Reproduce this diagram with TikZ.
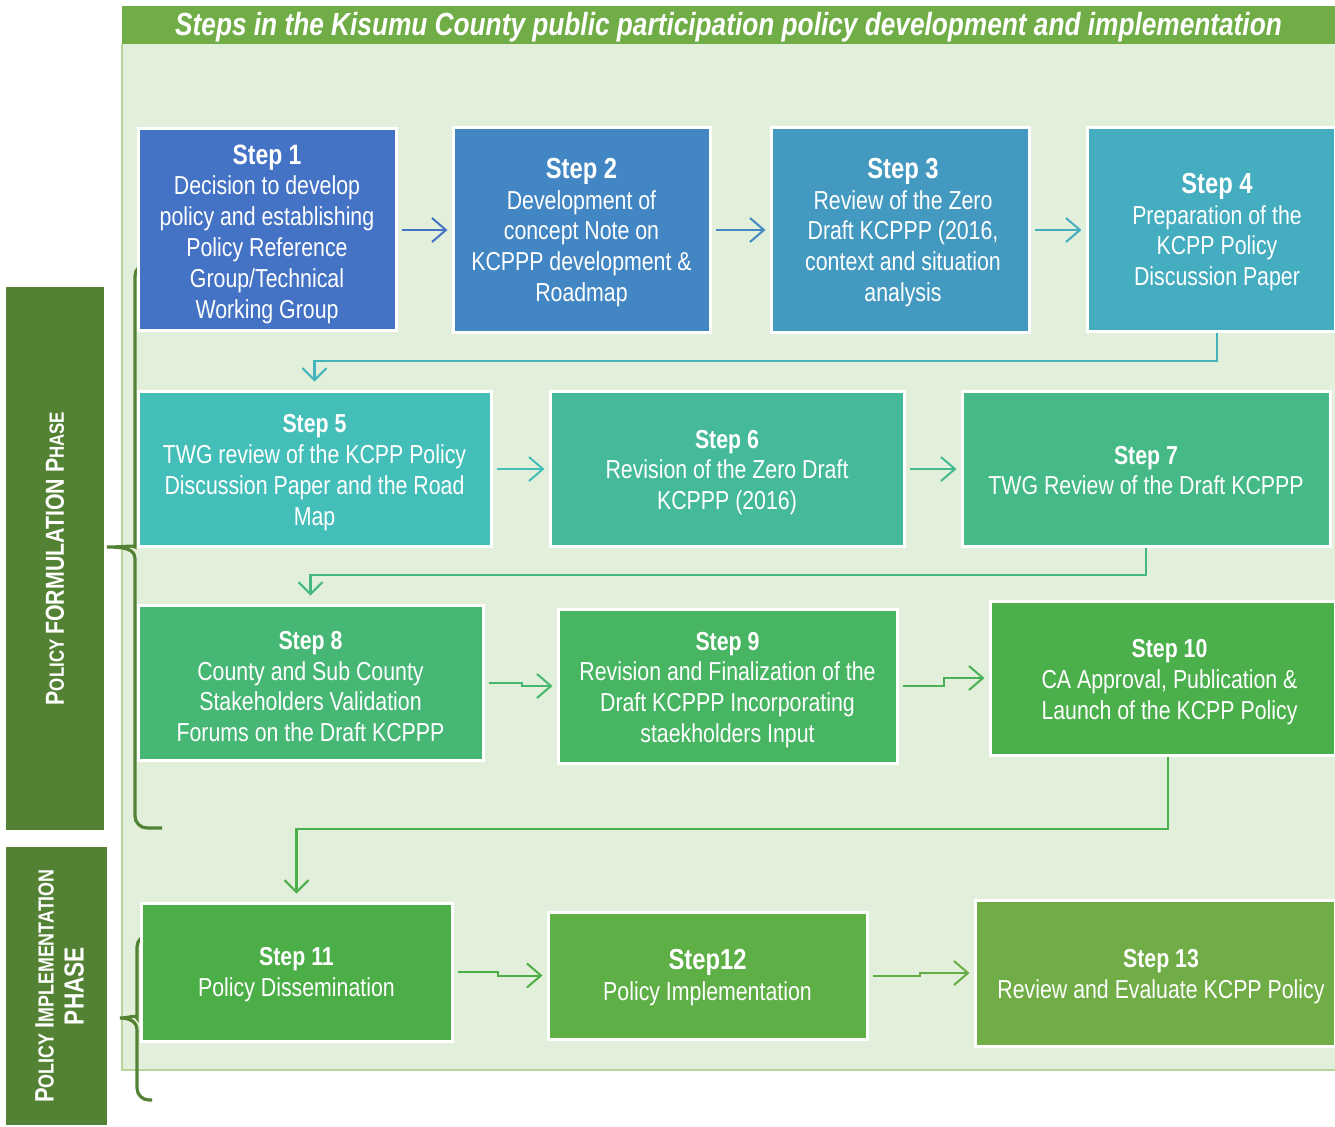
\documentclass[tikz,border=0pt]{standalone}
\usepackage{fontspec}
\setmainfont{Liberation Sans}[FakeStretch=0.82]
\usetikzlibrary{arrows.meta}
\definecolor{panel}{HTML}{E2EFDA}
\definecolor{panelborder}{HTML}{B4D69C}
\definecolor{titlegreen}{HTML}{70AD47}
\definecolor{phasegreen}{HTML}{548235}
\definecolor{cA}{HTML}{4472C4}
\definecolor{cB}{HTML}{4286C4}
\definecolor{cC}{HTML}{4399C0}
\definecolor{cD}{HTML}{44ADBF}
\definecolor{cE}{HTML}{44BEB8}
\definecolor{cF}{HTML}{45BA9A}
\definecolor{cG}{HTML}{45BA87}
\definecolor{cH}{HTML}{46B775}
\definecolor{cI}{HTML}{48B563}
\definecolor{cJ}{HTML}{4BB04C}
\definecolor{cK}{HTML}{4BAE47}
\definecolor{cL}{HTML}{5EAF45}
\definecolor{cM}{HTML}{70AD47}
\newcommand{\bigtitle}[1]{{\fontsize{14.5}{15.4}\selectfont\bfseries #1}}
\newcommand{\midtitle}[1]{{\fontsize{14}{15.4}\selectfont\bfseries #1}}
\begin{document}
\begin{tikzpicture}[x=0.5pt,y=-0.5pt,
  stepbox/.style={draw=white, line width=1.5pt, inner sep=0pt},
  steptext/.style={text=white, align=center, inner sep=0pt,
    font=\fontsize{13}{15.4}\selectfont},
  arr/.style={line width=1pt, shorten >=2pt, shorten <=2pt,
    -{Straight Barb[length=7pt,width=12pt,line width=1pt]}},
  conn/.style={line width=1.3pt, shorten >=4pt,
    -{Straight Barb[length=6pt,width=12pt,line width=1pt]}},
  phasebox/.style={fill=phasegreen, text=white, inner sep=0pt, align=center},
  brace/.style={draw=phasegreen, line width=1.6pt, rounded corners=6pt}
]
\useasboundingbox (0,0) rectangle (1335,1126);
% panel
\fill[panel] (122,44) rectangle (1335,1070);
\draw[panelborder, line width=1pt] (122,44) -- (122,1070) -- (1335,1070);
% title
\node (title) [fill=titlegreen, minimum width=606.5pt, minimum height=19pt, inner sep=0pt] at (728.5,25) {};
\node (titletext) [text=white, inner sep=0pt, font=\fontsize{16}{18}\selectfont\bfseries\itshape] at (728.5,27)
  {Steps in the Kisumu County public participation policy development and implementation};
% phase bars
\node (ph1) [phasebox, minimum width=49pt, minimum height=271.5pt] at (55,558.5) {};
\node (ph1t) [text=white, rotate=90, font=\bfseries] at (ph1.center)
  {\fontsize{13}{15}\selectfont P\fontsize{10.3}{12}\selectfont OLICY \fontsize{13}{15}\selectfont FORMULATION P\fontsize{10.3}{12}\selectfont HASE};
\node (ph2) [phasebox, minimum width=50.5pt, minimum height=139pt] at (56.5,986) {};
\node (ph2t) [text=white, rotate=90, align=center, font=\bfseries] at ([xshift=1.5pt]ph2.center)
  {\fontsize{13.3}{15}\selectfont P\fontsize{10.9}{12}\selectfont OLICY \fontsize{13.3}{15}\selectfont I\fontsize{10.9}{12}\selectfont MPLEMENTATION\\[3pt]
   \fontsize{13.8}{15}\selectfont PHASE};
% braces
\draw[brace] (162,264) -- (135,264) -- (135,535) [rounded corners=0pt] .. controls (135,545) and (125,547) .. (107,547)
  .. controls (125,547) and (135,549) .. (135,559) [rounded corners=6pt] -- (135,828) -- (162,828);
\draw[brace] (152,935) -- (137,935) -- (137,1006) [rounded corners=0pt] .. controls (137,1014) and (130,1018) .. (120,1018)
  .. controls (130,1018) and (137,1022) .. (137,1030) [rounded corners=6pt] -- (137,1100) -- (152,1100);
% steps
\node (s1) [stepbox, fill=cA, minimum width=129pt, minimum height=101pt] at (267,229) {};
\node (t1) [steptext] at ([yshift=-2.5pt]s1.center)
  {\midtitle{Step 1}\\Decision to develop\\policy and establishing\\Policy Reference\\Group/Technical\\Working Group};
\node (s2) [stepbox, fill=cB, minimum width=128.5pt, minimum height=102.5pt] at (581.5,229.5) {};
\node (t2) [steptext] at ([yshift=-1.5pt]s2.center)
  {\bigtitle{Step 2}\\Development of\\concept Note on\\KCPPP development \&\\Roadmap};
\node (s3) [stepbox, fill=cC, minimum width=129pt, minimum height=102.5pt] at (900,229.5) {};
\node (t3) [steptext] at ([yshift=-1.5pt,xshift=1.5pt]s3.center)
  {\bigtitle{Step 3}\\Review of the Zero\\Draft KCPPP (2016,\\context and situation\\analysis};
\node (s4) [stepbox, fill=cD, minimum width=124pt, minimum height=102pt] at (1211,229) {};
\node (t4) [steptext] at ([yshift=-1.5pt,xshift=3pt]s4.center)
  {\bigtitle{Step 4}\\Preparation of the\\KCPP Policy\\Discussion Paper};
\node (s5) [stepbox, fill=cE, minimum width=176.5pt, minimum height=77.5pt] at (314.5,468.5) {};
\node (t5) [steptext] at ([yshift=-2pt]s5.center)
  {\textbf{Step 5}\\TWG review of the KCPP Policy\\Discussion Paper and the Road\\Map};
\node (s6) [stepbox, fill=cF, minimum width=177pt, minimum height=77.5pt] at (727,468.5) {};
\node (t6) [steptext] at ([yshift=-2pt]s6.center)
  {\textbf{Step 6}\\Revision of the Zero Draft\\KCPPP (2016)};
\node (s7) [stepbox, fill=cG, minimum width=184pt, minimum height=77.5pt] at (1146,468.5) {};
\node (t7) [steptext] at ([yshift=-1pt]s7.center)
  {\textbf{Step 7}\\TWG Review of the Draft KCPPP};
\node (s8) [stepbox, fill=cH, minimum width=172.5pt, minimum height=77.5pt] at (310.5,682.5) {};
\node (t8) [steptext] at ([yshift=-2pt]s8.center)
  {\textbf{Step 8}\\County and Sub County\\Stakeholders Validation\\Forums on the Draft KCPPP};
\node (s9) [stepbox, fill=cI, minimum width=169.5pt, minimum height=77pt] at (727.5,686) {};
\node (t9) [steptext] at ([yshift=-2pt]s9.center)
  {\textbf{Step 9}\\Revision and Finalization of the\\Draft KCPPP Incorporating\\staekholders Input};
\node (s10) [stepbox, fill=cJ, minimum width=172.5pt, minimum height=77pt] at (1162.5,678) {};
\node (t10) [steptext] at ([yshift=-2pt,xshift=3.5pt]s10.center)
  {\textbf{Step 10}\\CA Approval, Publication \&\\Launch of the KCPP Policy};
\node (s11) [stepbox, fill=cK, minimum width=155.5pt, minimum height=69pt] at (296.5,972) {};
\node (t11) [steptext] at ([yshift=-1.5pt]s11.center)
  {\textbf{Step 11}\\Policy Dissemination};
\node (s12) [stepbox, fill=cL, minimum width=159.5pt, minimum height=63.5pt] at (707.5,975.5) {};
\node (t12) [steptext] at ([yshift=-1pt]s12.center)
  {\bigtitle{Step12}\\Policy Implementation};
\node (s13) [stepbox, fill=cM, minimum width=180pt, minimum height=73pt] at (1155,973) {};
\node (t13) [steptext] at ([yshift=-2pt,xshift=3pt]s13.center)
  {\textbf{Step 13}\\Review and Evaluate KCPP Policy};
% horizontal arrows
\draw[arr, cA] (s1.east |- 0,230) -- (s2.west |- 0,230);
\draw[arr, cB!85!cC] (s2.east |- 0,230) -- (s3.west |- 0,230);
\draw[arr, cD] (s3.east |- 0,230) -- (s4.west |- 0,230);
\draw[arr, cE] (s5.east |- 0,469) -- (s6.west |- 0,469);
\draw[arr, cF!60!cG] (s6.east |- 0,469) -- (s7.west |- 0,469);
\draw[arr, cH!60!cI] (s8.east) -- (522,682.5) -- (522,686) -- (s9.west);
\draw[arr, cI!50!cJ] (s9.east) -- (944,686) -- (944,678) -- (s10.west);
\draw[arr, cK] (s11.east) -- (498,972) -- (498,975.5) -- (s12.west);
\draw[arr, cL!60!cM] (s12.east) -- (920,975.5) -- (920,973) -- (s13.west);
% row connectors
\coordinate (k4) at (1217,361);
\coordinate (k7) at (1146,575);
\coordinate (k10) at (1168,829);
\draw[conn, cD!60!cE] (s4.south -| k4) -- (k4) -| (s5.north);
\draw[conn, cG!60!cH] (s7.south -| k7) -- (k7) -| (s8.north);
\draw[conn, cJ] (s10.south -| k10) -- (k10) -| (s11.north);
\end{tikzpicture}
\end{document}
